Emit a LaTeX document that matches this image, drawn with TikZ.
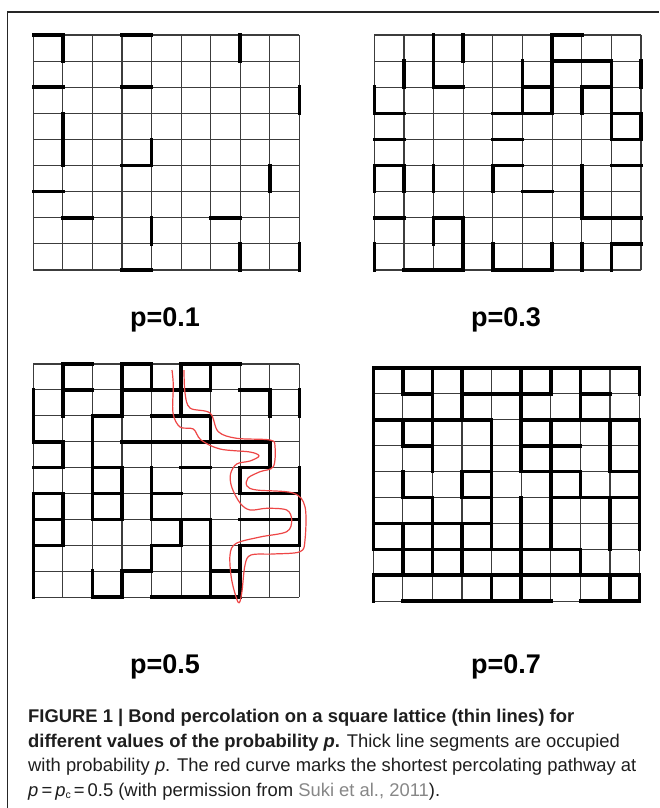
\documentclass[tikz,border=0pt]{standalone}
\usepackage{fontspec}
\setmainfont{Liberation Sans}
\definecolor{gridgray}{RGB}{60,60,60}
\definecolor{pathred}{RGB}{238,70,70}
\definecolor{linkgray}{RGB}{135,135,135}
\definecolor{captext}{RGB}{30,30,30}
\tikzset{
  thinline/.style={draw=gridgray,line width=1.15pt},
  thickline/.style={draw=black,line width=3.6pt,line cap=rect},
  framestyle/.style={draw=black!85,line width=1.1pt},
  plabel/.style={font=\fontsize{27}{30}\selectfont\bfseries,anchor=base,inner sep=0pt},
  capline/.style={font=\fontsize{18.4}{24}\selectfont,anchor=base west,inner sep=0pt,text=captext},
  redpath/.style={draw=pathred,line width=1.2pt,line join=round}
}
% #1,#2 = top-left corner; #3,#4 = cell width/height; #5 = horizontal bonds r/c; #6 = vertical bonds c/r
\newcommand{\mylattice}[6]{%
  \begin{scope}[shift={(#1,#2)},x={(#3pt,0pt)},y={(0pt,-#4pt)}]
    \foreach \i in {0,...,9}{
      \draw[thinline] (\i,0) -- (\i,9);
      \draw[thinline] (0,\i) -- (9,\i);
    }
    \foreach \r/\c in {#5}{
      \draw[thickline] (\c,\r) -- ({\c+1},\r);
    }
    \foreach \c/\r in {#6}{
      \draw[thickline] (\c,\r) -- (\c,{\r+1});
    }
  \end{scope}}
\begin{document}
\begin{tikzpicture}[x=1pt,y=-1pt]
\useasboundingbox (0,0) rectangle (659,808);
\fill[white] (0,0) rectangle (659,808);
\draw[framestyle] (7.5,808) -- (7.5,12) -- (659,12);

% p = 0.1
\mylattice{33.3}{35}{29.56}{26.11}
 {0/0,0/3,2/0,2/3,5/3,6/0,7/1,7/6,9/3}
 {1/0,7/0,9/2,1/3,1/4,4/4,8/5,4/7,7/8,9/8}

% p = 0.3
\mylattice{374.3}{35}{29.63}{26.11}
 {0/6,1/6,1/7,2/2,2/5,2/7,3/0,3/4,3/5,3/8,4/8,4/0,4/4,5/0,5/4,6/5,5/8,7/7,7/8,7/0,7/2,9/1,9/2,9/4,9/5,8/8}
 {2/0,2/1,3/0,6/0,1/1,5/1,5/2,6/1,6/2,8/1,8/2,8/3,9/1,7/2,0/2,9/3,0/5,1/5,2/5,4/5,7/5,7/6,2/7,3/7,3/8,0/8,4/8,6/8,7/8,8/8}

% p = 0.5
\mylattice{33.3}{364}{29.56}{25.9}
 {0/1,0/3,0/5,0/6,1/1,1/3,1/4,1/5,1/7,2/2,2/4,2/5,3/0,3/3,3/4,3/5,3/6,3/7,4/0,4/2,4/5,4/7,5/0,5/2,5/4,5/7,5/8,6/0,6/2,6/4,6/5,6/7,6/8,7/0,7/4,7/7,7/8,8/3,8/6,9/2,9/4,9/5,9/6}
 {1/0,3/0,4/0,5/0,6/0,0/1,1/1,3/1,5/1,8/1,9/1,0/2,2/2,6/2,1/3,2/3,8/3,2/4,3/4,4/4,7/4,9/4,0/5,1/5,2/5,3/5,4/5,9/5,0/6,1/6,5/6,6/6,9/6,0/7,4/7,6/7,7/7,0/8,2/8,3/8,6/8,7/8}

% p = 0.7
\mylattice{373.3}{368}{29.58}{25.9}
 {0/0,0/1,0/2,0/3,0/4,0/5,0/6,0/7,0/8,1/1,1/3,1/4,1/5,1/7,2/0,2/1,2/2,2/3,2/5,2/6,2/7,2/8,3/1,3/5,3/6,4/3,4/5,4/6,4/8,5/1,5/3,5/6,5/7,5/8,6/0,6/1,6/2,6/3,7/0,7/1,7/2,7/3,7/4,7/5,7/6,8/0,8/1,8/2,8/3,8/4,8/5,8/6,8/7,8/8,9/1,9/2,9/3,9/4,9/5,9/7,9/8}
 {0/0,1/0,2/0,3/0,5/0,6/0,7/0,9/0,0/1,2/1,3/1,5/1,7/1,0/2,1/2,2/2,4/2,5/2,6/2,8/2,9/2,0/3,2/3,4/3,5/3,6/3,8/3,9/3,0/4,1/4,3/4,4/4,6/4,7/4,9/4,0/5,2/5,4/5,5/5,6/5,8/5,9/5,0/6,1/6,2/6,3/6,4/6,5/6,6/6,8/6,9/6,1/7,2/7,3/7,5/7,7/7,0/8,4/8,5/8,8/8,9/8}

% red percolating pathway
\draw[redpath] plot[smooth,tension=0.55] coordinates {
 (172,370) (173.3,385) (173,413) (180,427) (193.3,429) (201,440) (220,449) (250,452) (259,456)
 (250,461) (236.7,464) (230.5,474) (231.7,487) (240,503) (250,510) (266.7,508.3) (286.7,510)
 (291.7,520) (286.7,531.7) (260,537) (236,543.5) (230,555) (231.7,580) (238.3,602.5)
 (241.7,593.3) (245,565) (251,555) (273.3,554) (300,551.7) (305,540) (305,506.7) (293,493)
 (256.7,490) (247,486) (248,478) (260,471.7) (273.3,466.7) (275,446.7) (270,440) (236.7,438.3)
 (218.3,431.7) (210,413) (190,408) (185,393) (184,370)};

% labels
\node[plabel] (l1) at (165,326) {p=0.1};
\node[plabel] (l3) at (506,326) {p=0.3};
\node[plabel] (l5) at (165,673) {p=0.5};
\node[plabel] (l7) at (506,673) {p=0.7};

% caption
\node[capline] (c1) at (28,722.5) {\bfseries FIGURE 1 | Bond percolation on a square lattice (thin lines) for};
\node[capline] (c2) at (28,747) {\bfseries different values of the probability \textit{p}.\mdseries\upshape{} Thick line segments are occupied};
\node[capline] (c3) at (28,771.5) {with probability \textit{p}. The red curve marks the shortest percolating pathway at};
\node[capline] (c4) at (28,796) {\textit{p}\,=\,\textit{p}\raisebox{-0.25ex}{\fontsize{10.5}{10.5}\selectfont c}\,=\,0.5 (with permission from \textcolor{linkgray}{Suki et al., 2011}).};
\end{tikzpicture}
\end{document}
